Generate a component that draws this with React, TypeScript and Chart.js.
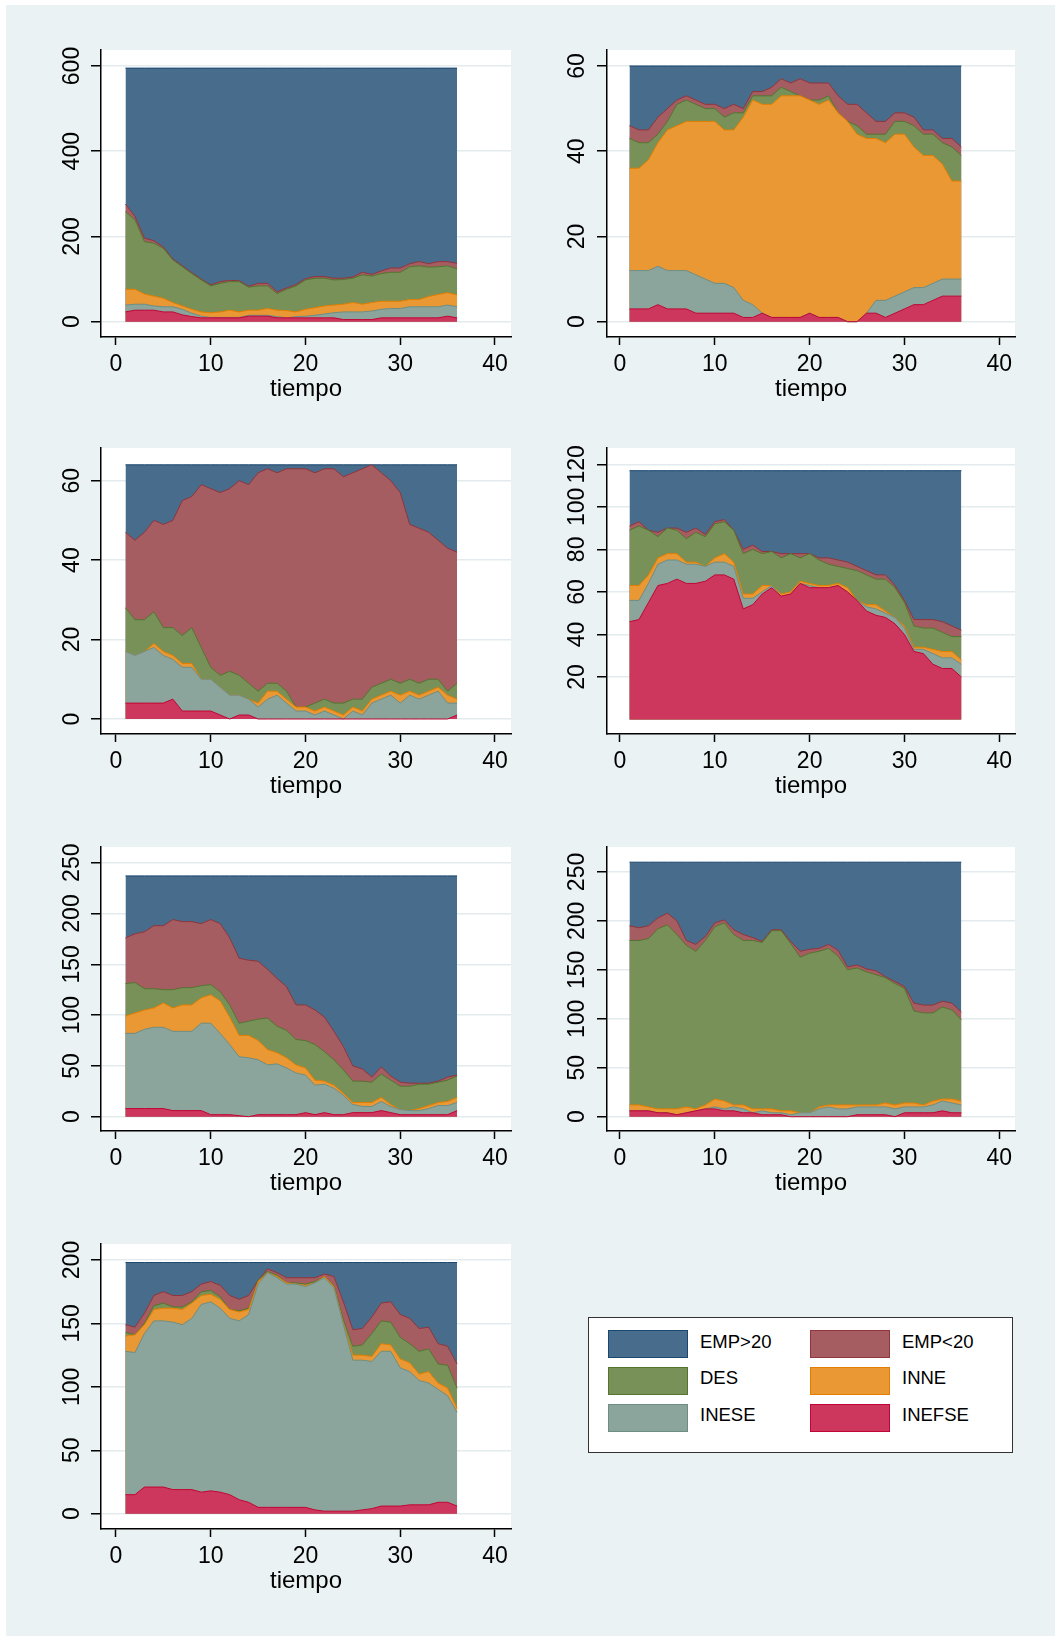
import React, { useEffect, useRef } from 'react';
import { Chart, registerables } from 'chart.js';

Chart.register(...registerables);

const FONT = "'Liberation Sans', Arial, Helvetica, sans-serif";
Chart.defaults.font.family = FONT;
Chart.defaults.color = '#000';

// ---- categories / ticks ----
const tiempo = [1, 2, 3, 4, 5, 6, 7, 8, 9, 10, 11, 12, 13, 14, 15, 16, 17, 18, 19, 20, 21, 22, 23, 24, 25, 26, 27, 28, 29, 30, 31, 32, 33, 34, 35, 36];
const xTicks = [0, 10, 20, 30, 40];
const xTitle = 'tiempo';

// legend order (top of stack first)
const seriesNames = ['EMP>20', 'EMP<20', 'DES', 'INNE', 'INESE', 'INEFSE'];
const lineColors = ['#1a476f', '#90353b', '#55752f', '#e37e00', '#6e8e84', '#c10534'];
const fillColors = ['rgb(72,108,140)', 'rgb(166,93,98)', 'rgb(119,145,89)', 'rgb(233,152,51)', 'rgb(139,165,157)', 'rgb(205,55,93)'];

// ---- series values: cumulative levels as stacked in the original (INEFSE at bottom) ----
// Panel 1
const g1Inefse = [23, 27, 27, 27, 23, 23, 16, 12, 9, 9, 9, 9, 9, 13, 13, 13, 9, 9, 9, 9, 9, 9, 9, 5, 5, 5, 5, 9, 9, 9, 9, 9, 9, 9, 13, 9];
const g1Inese = [39, 41, 41, 37, 35, 35, 29, 20, 13, 10, 10, 10, 10, 15, 15, 15, 12, 9, 12, 13, 15, 18, 21, 23, 23, 23, 25, 29, 31, 31, 35, 35, 35, 35, 39, 35];
const g1Inne = [76, 76, 65, 60, 55, 45, 37, 29, 23, 21, 23, 27, 23, 27, 27, 31, 27, 26, 23, 29, 33, 37, 39, 41, 45, 41, 45, 48, 48, 48, 52, 52, 59, 64, 68, 63];
const g1Des = [258, 239, 188, 184, 172, 145, 129, 113, 98, 84, 90, 94, 94, 81, 84, 84, 66, 76, 84, 98, 102, 102, 98, 99, 102, 110, 107, 113, 116, 116, 129, 131, 128, 129, 131, 124];
const g1EmpLt20 = [276, 247, 196, 190, 175, 147, 131, 115, 100, 86, 94, 97, 96, 83, 90, 90, 70, 79, 87, 101, 106, 106, 102, 102, 105, 116, 111, 119, 126, 126, 136, 141, 136, 141, 141, 137];
const g1EmpGt20 = [595, 595, 595, 595, 595, 595, 595, 595, 595, 595, 595, 595, 595, 595, 595, 595, 595, 595, 595, 595, 595, 595, 595, 595, 595, 595, 595, 595, 595, 595, 595, 595, 595, 595, 595, 595];
const g1YTicks = [0, 200, 400, 600];

// Panel 2
const g2Inefse = [3, 3, 3, 4, 3, 3, 3, 2, 2, 2, 2, 2, 1, 1, 2, 1, 1, 1, 1, 2, 1, 1, 1, 0, 0, 2, 2, 1, 2, 3, 4, 4, 5, 6, 6, 6];
const g2Inese = [12, 12, 12, 13, 12, 12, 12, 11, 10, 9, 9, 8, 5, 4, 2, 1, 1, 1, 1, 2, 1, 1, 1, 0, 0, 2, 5, 5, 6, 7, 8, 8, 9, 10, 10, 10];
const g2Inne = [36, 36, 38, 42, 45, 46, 47, 47, 47, 47, 45, 45, 48, 52, 51, 51, 53, 53, 53, 52, 51, 52, 49, 47, 44, 43, 43, 42, 44, 44, 41, 39, 39, 37, 33, 33];
const g2Des = [43, 42, 42, 44, 47, 51, 52, 51, 50, 50, 48, 49, 49, 53, 53, 53, 55, 54, 53, 52, 52, 53, 49, 47, 46, 44, 44, 44, 47, 47, 46, 44, 44, 42, 41, 39];
const g2EmpLt20 = [46, 45, 45, 48, 50, 52, 53, 52, 51, 51, 50, 51, 50, 54, 54, 55, 57, 56, 57, 56, 56, 56, 53, 51, 51, 49, 47, 47, 49, 49, 48, 45, 45, 43, 43, 41];
const g2EmpGt20 = [60, 60, 60, 60, 60, 60, 60, 60, 60, 60, 60, 60, 60, 60, 60, 60, 60, 60, 60, 60, 60, 60, 60, 60, 60, 60, 60, 60, 60, 60, 60, 60, 60, 60, 60, 60];
const g2YTicks = [0, 20, 40, 60];

// Panel 3
const g3Inefse = [4, 4, 4, 4, 4, 5, 2, 2, 2, 2, 1, 0, 1, 1, 0, 0, 0, 0, 0, 0, 0, 0, 0, 0, 0, 0, 0, 0, 0, 0, 0, 0, 0, 0, 0, 1];
const g3Inese = [17, 16, 17, 18, 16, 15, 13, 13, 10, 10, 8, 6, 6, 5, 3, 5, 6, 4, 2, 2, 1, 2, 1, 0, 2, 1, 4, 5, 6, 4, 6, 5, 6, 7, 4, 4];
const g3Inne = [17, 16, 17, 19, 17, 16, 14, 14, 10, 10, 8, 6, 6, 5, 4, 7, 7, 5, 3, 3, 2, 3, 2, 1, 3, 2, 5, 6, 7, 6, 7, 6, 7, 8, 6, 5];
const g3Des = [28, 25, 25, 27, 23, 23, 21, 23, 18, 13, 11, 12, 11, 9, 7, 9, 9, 7, 3, 3, 4, 5, 4, 4, 5, 5, 8, 9, 10, 9, 10, 9, 10, 10, 7, 9];
const g3EmpLt20 = [47, 45, 47, 50, 49, 50, 55, 56, 59, 58, 57, 58, 60, 59, 62, 63, 62, 63, 63, 63, 62, 63, 63, 61, 62, 63, 64, 62, 60, 57, 49, 48, 47, 45, 43, 42];
const g3EmpGt20 = [64, 64, 64, 64, 64, 64, 64, 64, 64, 64, 64, 64, 64, 64, 64, 64, 64, 64, 64, 64, 64, 64, 64, 64, 64, 64, 64, 64, 64, 64, 64, 64, 64, 64, 64, 64];
const g3YTicks = [0, 20, 40, 60];

// Panel 4
const g4Inefse = [46, 47, 55, 63, 64, 66, 64, 64, 65, 68, 68, 66, 52, 54, 59, 62, 58, 59, 64, 62, 62, 62, 63, 60, 56, 51, 49, 48, 45, 40, 32, 31, 26, 24, 24, 20];
const g4Inese = [56, 56, 64, 73, 75, 75, 73, 73, 72, 74, 74, 72, 57, 57, 60, 63, 58, 59, 64, 63, 62, 62, 63, 60, 56, 53, 52, 50, 48, 43, 33, 33, 31, 29, 29, 26];
const g4Inne = [63, 63, 68, 76, 78, 78, 74, 74, 72, 76, 78, 74, 59, 59, 63, 63, 59, 60, 65, 64, 63, 63, 64, 62, 56, 54, 54, 51, 48, 44, 34, 34, 33, 32, 32, 28];
const g4Des = [89, 91, 89, 86, 90, 89, 85, 88, 86, 92, 93, 89, 78, 80, 78, 79, 76, 78, 76, 78, 75, 73, 72, 71, 70, 68, 66, 66, 62, 55, 44, 43, 43, 41, 39, 39];
const g4EmpLt20 = [91, 93, 89, 88, 90, 90, 88, 90, 87, 93, 94, 89, 80, 82, 79, 79, 78, 78, 78, 78, 76, 76, 75, 74, 72, 70, 68, 68, 63, 56, 47, 47, 47, 46, 44, 42];
const g4EmpGt20 = [117, 117, 117, 117, 117, 117, 117, 117, 117, 117, 117, 117, 117, 117, 117, 117, 117, 117, 117, 117, 117, 117, 117, 117, 117, 117, 117, 117, 117, 117, 117, 117, 117, 117, 117, 117];
const g4YTicks = [20, 40, 60, 80, 100, 120];

// Panel 5
const g5Inefse = [8, 8, 8, 8, 8, 6, 6, 6, 6, 2, 2, 2, 1, 0, 2, 2, 2, 2, 2, 4, 2, 4, 2, 2, 4, 4, 4, 6, 4, 2, 2, 2, 2, 2, 2, 6];
const g5Inese = [82, 82, 86, 88, 88, 84, 84, 84, 92, 92, 82, 71, 59, 58, 56, 51, 52, 48, 43, 41, 31, 32, 28, 21, 12, 10, 10, 15, 10, 7, 6, 6, 8, 11, 11, 14];
const g5Inne = [99, 102, 105, 107, 112, 107, 110, 110, 117, 120, 114, 98, 80, 80, 75, 66, 63, 58, 51, 48, 36, 35, 31, 23, 14, 14, 14, 19, 12, 7, 6, 8, 11, 14, 15, 19];
const g5Des = [131, 132, 126, 126, 125, 125, 127, 127, 129, 130, 123, 110, 92, 94, 96, 97, 89, 85, 76, 75, 71, 64, 56, 46, 35, 35, 34, 42, 36, 30, 30, 32, 32, 34, 36, 40];
const g5EmpLt20 = [176, 180, 182, 188, 188, 194, 192, 192, 190, 194, 190, 176, 156, 154, 153, 145, 136, 128, 110, 110, 105, 98, 84, 69, 50, 47, 39, 49, 40, 34, 33, 33, 33, 35, 39, 41];
const g5EmpGt20 = [237, 237, 237, 237, 237, 237, 237, 237, 237, 237, 237, 237, 237, 237, 237, 237, 237, 237, 237, 237, 237, 237, 237, 237, 237, 237, 237, 237, 237, 237, 237, 237, 237, 237, 237, 237];
const g5YTicks = [0, 50, 100, 150, 200, 250];

// Panel 6
const g6Inefse = [6, 6, 6, 4, 4, 2, 4, 6, 8, 8, 6, 6, 4, 4, 2, 2, 2, 0, 0, 0, 0, 0, 0, 0, 2, 2, 2, 2, 0, 4, 4, 4, 4, 6, 4, 4];
const g6Inese = [6, 6, 6, 4, 4, 2, 4, 6, 8, 10, 8, 10, 8, 4, 6, 4, 4, 2, 4, 4, 8, 10, 8, 8, 10, 10, 10, 10, 8, 10, 10, 10, 12, 16, 14, 12];
const g6Inne = [12, 12, 10, 8, 8, 8, 10, 8, 12, 18, 16, 12, 12, 8, 8, 8, 6, 6, 4, 4, 10, 12, 12, 12, 12, 12, 12, 14, 12, 14, 14, 12, 16, 18, 18, 16];
const g6Des = [180, 180, 182, 192, 196, 186, 175, 169, 180, 194, 198, 186, 180, 180, 178, 190, 190, 177, 163, 167, 169, 172, 164, 150, 152, 148, 145, 142, 136, 131, 108, 106, 106, 112, 109, 99];
const g6EmpLt20 = [195, 193, 195, 203, 208, 200, 180, 176, 184, 198, 201, 191, 186, 183, 179, 191, 191, 179, 169, 171, 172, 176, 170, 153, 155, 151, 149, 143, 138, 133, 116, 114, 114, 118, 116, 107];
const g6EmpGt20 = [260, 260, 260, 260, 260, 260, 260, 260, 260, 260, 260, 260, 260, 260, 260, 260, 260, 260, 260, 260, 260, 260, 260, 260, 260, 260, 260, 260, 260, 260, 260, 260, 260, 260, 260, 260];
const g6YTicks = [0, 50, 100, 150, 200, 250];

// Panel 7
const g7Inefse = [15, 15, 21, 21, 21, 19, 19, 19, 17, 18, 17, 15, 11, 9, 5, 5, 5, 5, 5, 5, 3, 2, 2, 2, 2, 3, 4, 6, 6, 6, 7, 7, 7, 9, 9, 6];
const g7Inese = [128, 127, 142, 152, 152, 151, 149, 154, 165, 167, 162, 154, 152, 157, 181, 190, 186, 181, 181, 179, 182, 186, 178, 149, 121, 121, 120, 128, 128, 115, 112, 105, 103, 98, 93, 80];
const g7Inne = [140, 141, 149, 161, 162, 162, 161, 166, 172, 173, 169, 161, 159, 161, 183, 190, 187, 182, 181, 180, 182, 187, 179, 150, 125, 125, 124, 134, 133, 122, 119, 110, 112, 103, 99, 83];
const g7Des = [143, 141, 150, 164, 166, 163, 163, 167, 175, 176, 171, 161, 160, 162, 184, 191, 188, 182, 182, 181, 183, 187, 180, 153, 132, 133, 142, 152, 151, 139, 134, 128, 130, 118, 117, 99];
const g7EmpLt20 = [149, 147, 158, 172, 175, 172, 172, 175, 181, 183, 180, 172, 169, 172, 184, 193, 190, 186, 186, 186, 186, 189, 187, 167, 145, 146, 155, 166, 167, 157, 154, 146, 147, 134, 132, 118];
const g7EmpGt20 = [198, 198, 198, 198, 198, 198, 198, 198, 198, 198, 198, 198, 198, 198, 198, 198, 198, 198, 198, 198, 198, 198, 198, 198, 198, 198, 198, 198, 198, 198, 198, 198, 198, 198, 198, 198];
const g7YTicks = [0, 50, 100, 150, 200];

// ---- layout (pixels) ----
const colLayout = [
  { canvasLeft: 40, areaLeft: 101, areaRight: 511, xMin: -1.583, xMax: 41.69, labelGap: 28.5 },
  { canvasLeft: 545, areaLeft: 607, areaRight: 1015, xMin: -1.371, xMax: 41.66, labelGap: 29.5 },
];
const rowLayout = [
  { top: 50, bottom: 337 },
  { top: 448, bottom: 734 },
  { top: 847, bottom: 1131 },
  { top: 1244, bottom: 1529 },
];
const PAD_TOP = 30;
const PAD_RIGHT = 20;
const X_H = 68;

type PanelCfg = { series: number[][]; yTicks: number[]; yMin: number; yMax: number; col: number; row: number };

const panels: PanelCfg[] = [
  { series: [g1EmpGt20, g1EmpLt20, g1Des, g1Inne, g1Inese, g1Inefse], yTicks: g1YTicks, yMin: -35.9, yMax: 637.5, col: 0, row: 0 },
  { series: [g2EmpGt20, g2EmpLt20, g2Des, g2Inne, g2Inese, g2Inefse], yTicks: g2YTicks, yMin: -3.59, yMax: 63.75, col: 1, row: 0 },
  { series: [g3EmpGt20, g3EmpLt20, g3Des, g3Inne, g3Inese, g3Inefse], yTicks: g3YTicks, yMin: -3.78, yMax: 68.23, col: 0, row: 1 },
  { series: [g4EmpGt20, g4EmpLt20, g4Des, g4Inne, g4Inese, g4Inefse], yTicks: g4YTicks, yMin: -6.8, yMax: 127.66, col: 1, row: 1 },
  { series: [g5EmpGt20, g5EmpLt20, g5Des, g5Inne, g5Inese, g5Inefse], yTicks: g5YTicks, yMin: -14.07, yMax: 265.45, col: 0, row: 2 },
  { series: [g6EmpGt20, g6EmpLt20, g6Des, g6Inne, g6Inese, g6Inefse], yTicks: g6YTicks, yMin: -14.6, yMax: 275.5, col: 1, row: 2 },
  { series: [g7EmpGt20, g7EmpLt20, g7Des, g7Inne, g7Inese, g7Inefse], yTicks: g7YTicks, yMin: -12.06, yMax: 212.6, col: 0, row: 3 },
];

const plotBg = {
  id: 'plotBg',
  beforeDraw(chart: any) {
    const { ctx, chartArea: a } = chart;
    ctx.save();
    ctx.fillStyle = '#ffffff';
    ctx.fillRect(a.left, a.top, a.right - a.left, a.bottom - a.top);
    ctx.restore();
  },
};

function Panel({ cfg }: { cfg: PanelCfg }) {
  const ref = useRef<HTMLCanvasElement>(null);
  const col = colLayout[cfg.col];
  const row = rowLayout[cfg.row];
  const width = col.areaRight + PAD_RIGHT - col.canvasLeft;
  const height = PAD_TOP + (row.bottom - row.top) + X_H;
  const top = row.top - PAD_TOP;

  useEffect(() => {
    const canvas = ref.current;
    if (!canvas) return;
    const yW = col.areaLeft - col.canvasLeft;
    const m = document.createElement('canvas').getContext('2d') as CanvasRenderingContext2D;
    m.font = `normal 23px ${FONT}`;
    const widest = Math.max(...cfg.yTicks.map((v) => m.measureText(String(v)).width));
    const yTL = 10;
    const yPad = col.labelGap - yTL - widest / 2;

    // bottom layer first in dataset index => drawn on top
    const datasets = cfg.series
      .map((vals, i) => ({
        label: seriesNames[i],
        data: tiempo.map((t, k) => ({ x: t, y: vals[k] })),
        borderColor: lineColors[i],
        backgroundColor: fillColors[i],
        borderWidth: 1,
        fill: 'origin',
        pointRadius: 0,
        tension: 0,
      }))
      .reverse();

    const chart = new Chart(canvas, {
      type: 'line',
      data: { datasets } as any,
      options: {
        animation: false,
        responsive: false,
        maintainAspectRatio: false,
        devicePixelRatio: 1,
        layout: { padding: { left: 0, top: PAD_TOP, right: PAD_RIGHT, bottom: 0 } },
        plugins: {
          legend: { display: false },
          tooltip: { enabled: false },
          title: { display: false },
          filler: { drawTime: 'beforeDatasetDraw' },
        } as any,
        scales: {
          x: {
            type: 'linear',
            position: 'bottom',
            min: col.xMin,
            max: col.xMax,
            afterBuildTicks: (s: any) => {
              s.ticks = xTicks.map((v) => ({ value: v }));
            },
            afterFit: (s: any) => {
              s.height = X_H;
            },
            ticks: {
              autoSkip: false,
              minRotation: 0,
              maxRotation: 0,
              padding: 5.5,
              color: '#000',
              font: { size: 23 },
              callback: (v: any) => String(v),
            },
            grid: { display: true, drawOnChartArea: false, drawTicks: true, tickLength: 8, tickColor: '#000', tickWidth: 1.5 },
            border: { display: true, color: '#000', width: 1.5 },
            title: { display: true, text: xTitle, color: '#000', font: { size: 24 }, padding: { top: 0, bottom: 1 } },
          },
          y: {
            type: 'linear',
            position: 'left',
            min: cfg.yMin,
            max: cfg.yMax,
            afterBuildTicks: (s: any) => {
              s.ticks = cfg.yTicks.map((v) => ({ value: v }));
            },
            afterFit: (s: any) => {
              s.width = yW;
            },
            ticks: {
              autoSkip: false,
              minRotation: 90,
              maxRotation: 90,
              crossAlign: 'center',
              padding: yPad,
              color: '#000',
              font: { size: 23 },
              callback: (v: any) => String(v),
            },
            grid: { display: true, color: '#e3ebee', lineWidth: 1.5, drawTicks: true, tickLength: yTL, tickColor: '#000', tickWidth: 1.5 },
            border: { display: true, color: '#000', width: 1.5 },
          },
        },
      } as any,
      plugins: [plotBg],
    });
    return () => chart.destroy();
  }, []);

  return (
    <canvas
      ref={ref}
      width={width}
      height={height}
      style={{ position: 'absolute', left: col.canvasLeft, top, width, height }}
    />
  );
}

const legendRows = [
  [0, 1],
  [2, 3],
  [4, 5],
];

function Legend() {
  const swTops = [1330, 1367, 1404];
  const txtTops = [1330.5, 1366.7, 1404.2];
  const swLefts = [608, 810];
  const txtLefts = [700, 902];
  return (
    <>
      <div
        style={{
          position: 'absolute',
          left: 588,
          top: 1317,
          width: 425,
          height: 136,
          boxSizing: 'border-box',
          border: '1px solid #333',
          background: '#fff',
        }}
      />
      {legendRows.map((r, ri) =>
        r.map((si, ci) => (
          <React.Fragment key={`${ri}-${ci}`}>
            <div
              style={{
                position: 'absolute',
                left: swLefts[ci],
                top: swTops[ri],
                width: 80,
                height: 28,
                boxSizing: 'border-box',
                border: `1px solid ${lineColors[si]}`,
                background: fillColors[si],
              }}
            />
            <div
              style={{
                position: 'absolute',
                left: txtLefts[ci],
                top: txtTops[ri],
                height: 22,
                lineHeight: '22px',
                fontFamily: FONT,
                fontSize: 18.5,
                color: '#000',
                whiteSpace: 'nowrap',
              }}
            >
              {seriesNames[si]}
            </div>
          </React.Fragment>
        ))
      )}
    </>
  );
}

export default function App() {
  return (
    <div style={{ position: 'absolute', left: 0, top: 0, width: 1055, height: 1636, background: '#fff', overflow: 'hidden' }}>
      <div style={{ position: 'absolute', left: 6, top: 5, width: 1049, height: 1631, background: '#eaf2f3' }} />
      {panels.map((p, i) => (
        <Panel key={i} cfg={p} />
      ))}
      <Legend />
    </div>
  );
}
